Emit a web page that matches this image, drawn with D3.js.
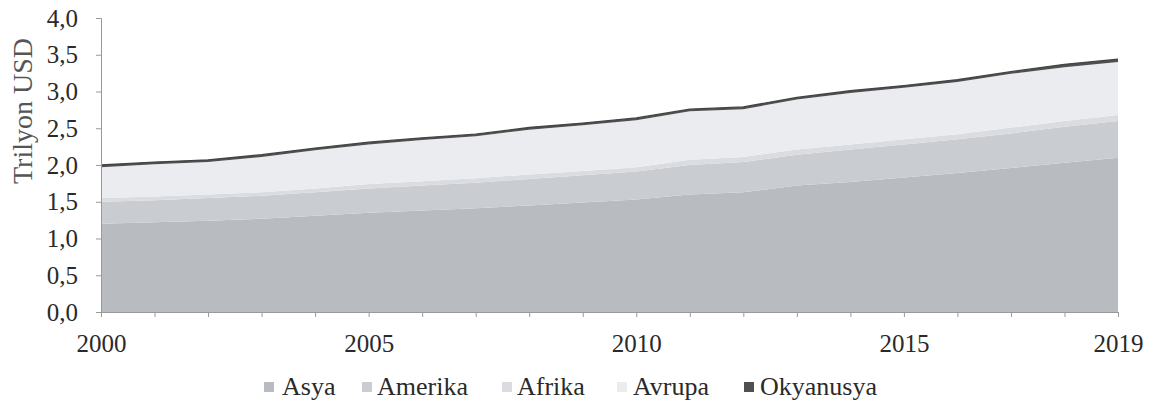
<!DOCTYPE html>
<html><head><meta charset="utf-8">
<script src="https://cdn.jsdelivr.net/npm/d3@7"></script>
<style>body{margin:0;background:#fff}svg{display:block}</style>
</head><body><svg id="c" width="1152" height="408"></svg>
<script>
const years = d3.range(2000, 2020);
const seriesNames = ["Asya","Amerika","Afrika","Avrupa","Okyanusya"];
const asya      = [1.20,1.22,1.24,1.27,1.31,1.35,1.38,1.41,1.45,1.49,1.53,1.60,1.63,1.72,1.77,1.83,1.89,1.96,2.03,2.10];
const amerika   = [0.30,0.30,0.31,0.31,0.32,0.33,0.34,0.35,0.36,0.37,0.38,0.40,0.41,0.42,0.44,0.45,0.46,0.47,0.49,0.50];
const afrika    = [0.05,0.05,0.05,0.05,0.05,0.06,0.06,0.06,0.06,0.06,0.06,0.07,0.07,0.07,0.07,0.07,0.07,0.08,0.08,0.08];
const avrupa    = [0.42,0.44,0.44,0.48,0.52,0.54,0.56,0.57,0.61,0.62,0.64,0.66,0.65,0.68,0.70,0.70,0.71,0.73,0.73,0.72];
const okyanusya = [0.03,0.03,0.03,0.03,0.03,0.03,0.03,0.03,0.03,0.03,0.03,0.03,0.03,0.03,0.03,0.03,0.03,0.03,0.04,0.04];
const yTicks = [0,0.5,1,1.5,2,2.5,3,3.5,4];
const xLabels = [2000,2005,2010,2015,2019];
const colors = ["#b8bbc0","#c9ccd1","#dadce0","#ebecf0","#505050"];
const FONT = '"Liberation Serif","Times New Roman",serif';

const table = years.map((y,i)=>({year:y,Asya:asya[i],Amerika:amerika[i],Afrika:afrika[i],Avrupa:avrupa[i],Okyanusya:okyanusya[i]}));
const stack = d3.stack().keys(seriesNames)(table);

const svg = d3.select("#c");
const x = d3.scaleLinear().domain([2000,2019]).range([101,1118]);
const y = d3.scaleLinear().domain([0,4]).range([312,18]);

const area = d3.area().x(d=>x(d.data.year)).y0(d=>y(d[0])).y1(d=>y(d[1]));
svg.append("g").selectAll("path").data(stack).join("path")
  .attr("d",area).attr("fill",(d,i)=>colors[i]);
svg.append("path").datum(stack[4])
  .attr("d",d3.line().x(d=>x(d.data.year)).y(d=>y(d[1])))
  .attr("fill","none").attr("stroke","#444").attr("stroke-width",1.3);

const yAxis = d3.axisLeft(y).tickValues(yTicks).tickSize(5).tickFormat(d=>d3.format(".1f")(d).replace(".",","));
const gy = svg.append("g").attr("transform","translate(101,0)").call(yAxis);
gy.select(".domain").attr("stroke","#999");
gy.selectAll(".tick line").attr("stroke","#999");
gy.selectAll("text").style("font-family",FONT).style("font-size","25px").attr("fill","#2a2a2a").attr("x",-23);

const xAxis = d3.axisBottom(x).tickValues(years).tickSize(5).tickFormat(d=>xLabels.includes(d)?d:"");
const gx = svg.append("g").attr("transform","translate(0,312)").call(xAxis);
gx.select(".domain").attr("stroke","#999");
gx.selectAll(".tick line").attr("stroke","#999");
gx.selectAll("text").style("font-family",FONT).style("font-size","25px").attr("fill","#2a2a2a").attr("y",40).attr("dy",0);

svg.append("text").attr("transform","translate(32,111) rotate(-90)")
  .attr("text-anchor","middle").style("font-family",FONT).style("font-size","28px").attr("fill","#555").text("Trilyon USD");

const legMarkX = [264,362,502,617,744];
const legTextX = [282,377,517,633,760];
const leg = svg.append("g");
seriesNames.forEach((n,i)=>{
  leg.append("rect").attr("x",legMarkX[i]).attr("y",382).attr("width",10).attr("height",10).attr("fill",colors[i]);
  leg.append("text").attr("x",legTextX[i]).attr("y",395).style("font-family",FONT).style("font-size","26px").attr("fill","#2a2a2a").text(n);
});
</script></body></html>
